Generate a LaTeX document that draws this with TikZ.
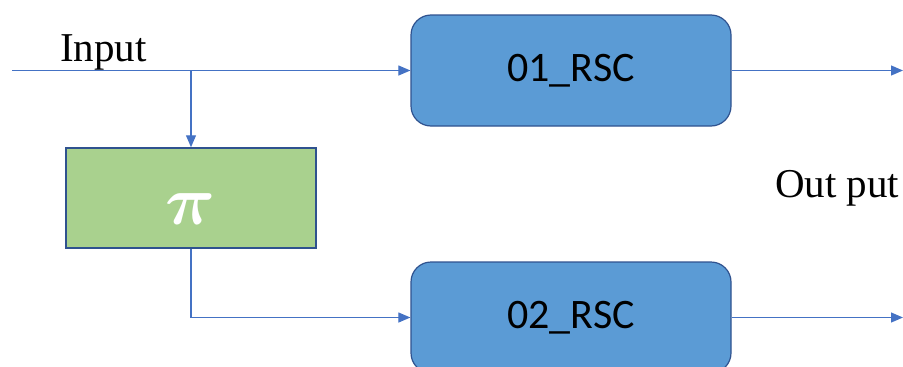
\documentclass[tikz,border=0pt]{standalone}
\usepackage{fontspec}
\usepackage{amsmath}
\usepackage{graphicx}
\setmainfont{Liberation Serif}
\newfontfamily\carlitofont{Carlito}
\usetikzlibrary{arrows.meta}
\definecolor{rscfill}{HTML}{5B9BD5}
\definecolor{rscdraw}{HTML}{2F528F}
\definecolor{pifill}{HTML}{A9D18E}
\definecolor{wire}{HTML}{4472C4}
\tikzset{
  rsc/.style={draw=rscdraw, line width=1.2pt, fill=rscfill, rounded corners=20pt,
    minimum width=320pt, minimum height=111pt, inner sep=0pt,
    font=\carlitofont\fontsize{42}{42}\selectfont},
  perm/.style={draw=rscdraw, line width=1.5pt, fill=pifill,
    minimum width=250pt, minimum height=100pt, inner sep=0pt, text=white},
  wirearrow/.style={draw=wire, line width=1.1pt, -{Triangle[length=12pt,width=10pt]}},
  lab/.style={font=\fontsize{41}{41}\selectfont, inner sep=0pt}
}
\begin{document}
\begin{tikzpicture}[x=1pt,y=-1pt]
\useasboundingbox (0,0) rectangle (903,367);
\node[rsc] (r1) at (571,70.5) {01\_RSC};
\node[rsc] (r2) at (571,317.5) {02\_RSC};
\node[perm] (pi) at (191,198) {};
\node[text=white, inner sep=0pt] (pisym) at (191,209) {\resizebox{50pt}{!}{$\boldsymbol{\pi}$}};
\coordinate (in) at (12,70.5);
\coordinate (split) at (191,70.5);
\coordinate (turn) at (191,317.5);
\coordinate (o1) at (903,70.5);
\coordinate (o2) at (903,317.5);
\node[lab, anchor=base west] (inlab) at (60,61) {Input};
\node[lab, anchor=base west] (outlab) at (775,197) {Out put};
\draw[wirearrow] (in) -- (r1.west);
\draw[wirearrow] (split) -- (pi.north);
\draw[wirearrow] (pi.south) -- (turn) -- (r2.west);
\draw[wirearrow] (r1.east) -- (o1);
\draw[wirearrow] (r2.east) -- (o2);
\end{tikzpicture}
\end{document}
